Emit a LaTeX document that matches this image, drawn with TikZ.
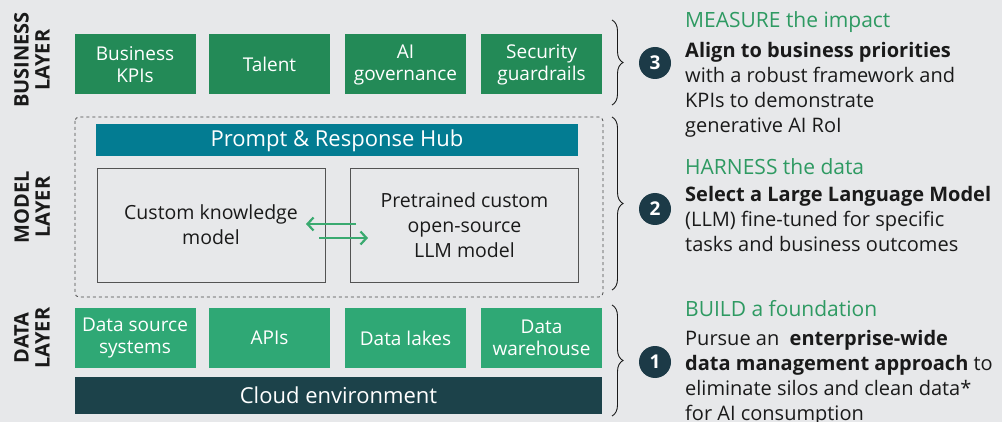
\documentclass[tikz,border=0pt]{standalone}
\usepackage{fontspec}
\setmainfont{Open Sans}
\usetikzlibrary{arrows.meta,decorations.pathreplacing}
\definecolor{bg}{HTML}{E7E8EA}
\definecolor{bizgreen}{HTML}{238A57}
\definecolor{datagreen}{HTML}{2FA875}
\definecolor{hubteal}{HTML}{037C92}
\definecolor{cloud}{HTML}{1C424A}
\definecolor{circ}{HTML}{1C3A47}
\definecolor{headgreen}{HTML}{2E9A62}
\definecolor{arrgreen}{HTML}{3AAA70}
\definecolor{txt}{HTML}{1A1A1A}
\tikzset{
  box/.style={minimum width=121pt, minimum height=60pt, inner sep=0pt, text=white, align=center, font=\fontsize{19}{22}\selectfont},
  bizbox/.style={box, fill=bizgreen},
  databox/.style={box, fill=datagreen},
  bar/.style={inner sep=0pt, text=white, font=\fontsize{22}{24}\selectfont},
  modelbox/.style={draw=txt!75, line width=0.8pt, fill=bg, minimum width=228pt, minimum height=114pt, inner sep=0pt, align=center, text=txt, font=\fontsize{19.5}{25}\selectfont},
  layerlbl/.style={rotate=90, align=center, font=\bfseries\fontsize{20}{21}\selectfont, text=txt},
  brc/.style={decorate, decoration={brace, amplitude=11pt}, line width=0.9pt, draw=txt},
  numcirc/.style={circle, fill=circ, minimum size=32pt, inner sep=0pt, text=white, font=\bfseries\fontsize{19}{19}\selectfont},
  head/.style={anchor=base west, inner sep=0pt, text=headgreen, font=\fontsize{21}{25}\selectfont},
  body/.style={anchor=north west, inner sep=0pt, align=left, text=txt, font=\fontsize{20}{25}\selectfont},
  flow/.style={draw=arrgreen, line width=2.2pt, -{Straight Barb[length=6pt, width=13pt, line width=2.2pt]}}
}
\begin{document}
\begin{tikzpicture}[x=1pt, y=-1pt]
\fill[bg] (0,0) rectangle (1002,422);
\useasboundingbox (0,0) rectangle (1002,422);

% layer labels
\node[layerlbl] (lbiz) at (32,60) {BUSINESS\\LAYER};
\node[layerlbl] (lmod) at (32,207) {MODEL\\LAYER};
\node[layerlbl] (ldat) at (32,338) {DATA\\LAYER};

% business layer
\node[bizbox] (kpi) at (135,64.5) {Business\\KPIs};
\node[bizbox] (tal) at (269.5,64.5) {Talent};
\node[bizbox] (gov) at (405.5,64.5) {AI\\governance};
\node[bizbox] (sec) at (541.5,64.5) {Security\\guardrails};

% model layer
\draw[dashed, line width=0.8pt, draw=txt!80, rounded corners=4pt] (75,117) rectangle (603,297);
\node[bar, fill=hubteal, minimum width=482pt, minimum height=32pt] (hub) at (337,140.5) {Prompt \& Response Hub};
\node[modelbox] (ckm) at (211,225) {Custom knowledge\\model};
\node[modelbox] (llm) at (464.5,225) {Pretrained custom\\open-source\\LLM model};
\coordinate (a1s) at (356,224);
\coordinate (a1e) at (306,224);
\coordinate (a2s) at (319,238);
\coordinate (a2e) at (368,238);
\draw[flow] (a1s) -- (a1e);
\draw[flow] (a2s) -- (a2e);

% data layer
\node[databox] (dss) at (135,338) {Data source\\systems};
\node[databox] (api) at (269.5,338) {APIs};
\node[databox] (lak) at (405.5,338) {Data lakes};
\node[databox] (whs) at (541.5,338) {Data\\warehouse};
\node[bar, fill=cloud, minimum width=527pt, minimum height=37pt] (cld) at (338.5,395.5) {Cloud environment};

% braces
\coordinate (b3t) at (612,20);
\coordinate (b3b) at (612,105);
\coordinate (b2t) at (612,117);
\coordinate (b2b) at (612,290);
\coordinate (b1t) at (612,305);
\coordinate (b1b) at (612,416);
\draw[brc] (b3t) -- (b3b);
\draw[brc] (b2t) -- (b2b);
\draw[brc] (b1t) -- (b1b);

% numbered circles
\node[numcirc] (c3) at (655,63) {3};
\node[numcirc] (c2) at (655,209) {2};
\node[numcirc] (c1) at (655,362) {1};

% right texts
\node[head] (h3) at (685,28) {MEASURE the impact};
\node[body] (t3) at (685,42) {\textbf{Align to business priorities}\\with a robust framework and\\KPIs to demonstrate\\generative AI RoI};
\node[head] (h2) at (685,175) {HARNESS the data};
\node[body] (t2) at (685,186.5) {\textbf{Select a Large Language Model}\\(LLM) fine-tuned for specific\\tasks and business outcomes};
\node[head] (h1) at (685,316.5) {BUILD a foundation};
\node[body] (t1) at (685,330) {Pursue an\ \ \textbf{enterprise-wide}\\\textbf{data management approach} to\\eliminate silos and clean data*\\for AI consumption};
\end{tikzpicture}
\end{document}
